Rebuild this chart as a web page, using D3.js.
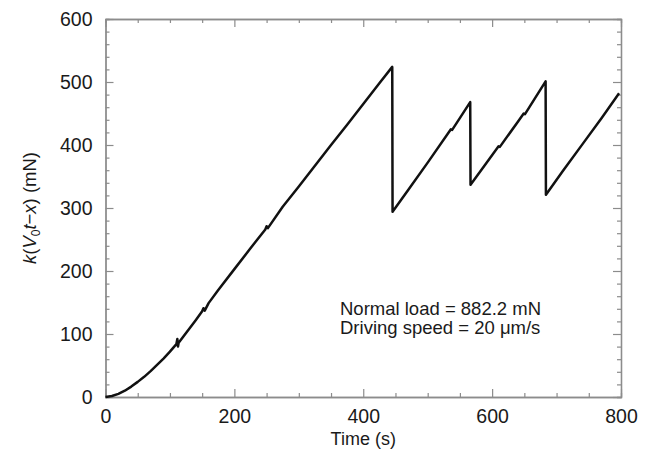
<!DOCTYPE html>
<html>
<head>
<meta charset="utf-8">
<script src="https://cdn.jsdelivr.net/npm/d3@7"></script>
<style>
  html, body { margin: 0; padding: 0; background: #fff; }
  svg { display: block; }
  text { font-family: "Liberation Sans", Arial, Helvetica, sans-serif; fill: #1a1a1a; }
</style>
</head>
<body>
<svg id="chart" width="645" height="452"></svg>
<script>
// Stick-slip record: spring force k(V0 t - x) against time
const timeS = [
  0, 10, 20, 30, 40, 50, 60, 70, 80, 90, 100, 105, 110, 111.5, 112.5, 113.5, 120,
  140, 150, 152, 154, 160, 175, 200, 225, 248, 250, 252, 275, 300, 325, 350, 375, 400, 425, 445,
  445.5, 470, 500, 536, 538, 566,
  566.5, 590, 610, 612, 640, 649, 651, 683,
  683.5, 710, 740, 770, 797
];
const forceMN = [
  0, 1.5, 5, 10, 16.5, 24, 32, 41, 51, 61, 72, 78, 84, 92, 80, 86, 95,
  122, 136, 141, 137, 149, 170, 203, 236, 266, 271, 268, 302, 334, 367, 400, 432, 465, 498, 524,
  294, 329, 372, 425, 424, 468,
  337, 370, 398, 397, 437, 450, 449, 501,
  321, 359, 401, 443, 482
];
const xTicksMajor = [0, 200, 400, 600, 800];
const yTicksMajor = [0, 100, 200, 300, 400, 500, 600];
const noteLines = ["Normal load = 882.2 mN", "Driving speed = 20 \u03bcm/s"];

const svg = d3.select("#chart");
const plotL = 105.5, plotR = 621, plotT = 19, plotB = 397;
const x = d3.scaleLinear().domain([0, 800]).range([plotL, plotR]);
const y = d3.scaleLinear().domain([0, 600]).range([plotB, plotT]);

const axisColor = "#8c8c8c";
const xMinor = d3.range(0, 801, 50).filter(v => v % 200 !== 0);
const yMinor = d3.range(0, 601, 20).filter(v => v % 100 !== 0);

function styleAxis(g) {
  g.select(".domain").attr("stroke", axisColor).attr("stroke-width", 1.3);
  g.selectAll(".tick line").attr("stroke", axisColor).attr("stroke-width", 1.2);
}

// Minor ticks on all four sides
svg.append("g").attr("transform", `translate(0,${plotB})`)
  .call(d3.axisBottom(x).tickValues(xMinor).tickSize(-4).tickFormat(""))
  .call(styleAxis);
svg.append("g").attr("transform", `translate(0,${plotT})`)
  .call(d3.axisTop(x).tickValues(xMinor).tickSize(-4).tickFormat(""))
  .call(styleAxis);
svg.append("g").attr("transform", `translate(${plotL},0)`)
  .call(d3.axisLeft(y).tickValues(yMinor).tickSize(-4).tickFormat(""))
  .call(styleAxis);
svg.append("g").attr("transform", `translate(${plotR},0)`)
  .call(d3.axisRight(y).tickValues(yMinor).tickSize(-4).tickFormat(""))
  .call(styleAxis);

// Major ticks with labels
const gx = svg.append("g").attr("transform", `translate(0,${plotB})`)
  .call(d3.axisBottom(x).tickValues(xTicksMajor).tickSizeInner(-8).tickSizeOuter(0).tickPadding(12))
  .call(styleAxis);
gx.selectAll(".tick text").attr("font-size", 19.5).attr("fill", "#1a1a1a")
  .attr("font-family", "Liberation Sans, Arial, sans-serif");

svg.append("g").attr("transform", `translate(0,${plotT})`)
  .call(d3.axisTop(x).tickValues(xTicksMajor).tickSizeInner(-8).tickSizeOuter(0).tickFormat(""))
  .call(styleAxis);

const gy = svg.append("g").attr("transform", `translate(${plotL},0)`)
  .call(d3.axisLeft(y).tickValues(yTicksMajor).tickSizeInner(-8).tickSizeOuter(0).tickPadding(13))
  .call(styleAxis);
gy.selectAll(".tick text").attr("font-size", 19.5).attr("fill", "#1a1a1a")
  .attr("font-family", "Liberation Sans, Arial, sans-serif");

svg.append("g").attr("transform", `translate(${plotR},0)`)
  .call(d3.axisRight(y).tickValues(yTicksMajor).tickSizeInner(-8).tickSizeOuter(0).tickFormat(""))
  .call(styleAxis);

// Force trace
const pts = timeS.map((t, i) => [t, forceMN[i]]);
svg.append("path")
  .datum(pts)
  .attr("fill", "none")
  .attr("stroke", "#111")
  .attr("stroke-width", 2.5)
  .attr("stroke-linejoin", "round")
  .attr("d", d3.line().x(d => x(d[0])).y(d => y(d[1])));

// Axis titles
svg.append("text")
  .attr("x", (plotL + plotR) / 2).attr("y", 445)
  .attr("text-anchor", "middle").attr("font-size", 18)
  .text("Time (s)");

const yt = svg.append("text")
  .attr("transform", `translate(36,${(plotT + plotB) / 2}) rotate(-90)`)
  .attr("text-anchor", "middle").attr("font-size", 18.5);
yt.append("tspan").attr("font-style", "italic").text("k");
yt.append("tspan").text("(");
yt.append("tspan").attr("font-style", "italic").text("V");
yt.append("tspan").attr("font-size", 12).attr("dy", 4).text("0");
yt.append("tspan").attr("font-style", "italic").attr("dy", -4).text("t");
yt.append("tspan").text("\u2212");
yt.append("tspan").attr("font-style", "italic").text("x");
yt.append("tspan").text(") (mN)");

// Test conditions
svg.append("g").selectAll("text").data(noteLines).join("text")
  .attr("x", 340).attr("y", (d, i) => 315 + i * 19)
  .attr("font-size", 18.5)
  .text(d => d);
</script>
</body>
</html>
